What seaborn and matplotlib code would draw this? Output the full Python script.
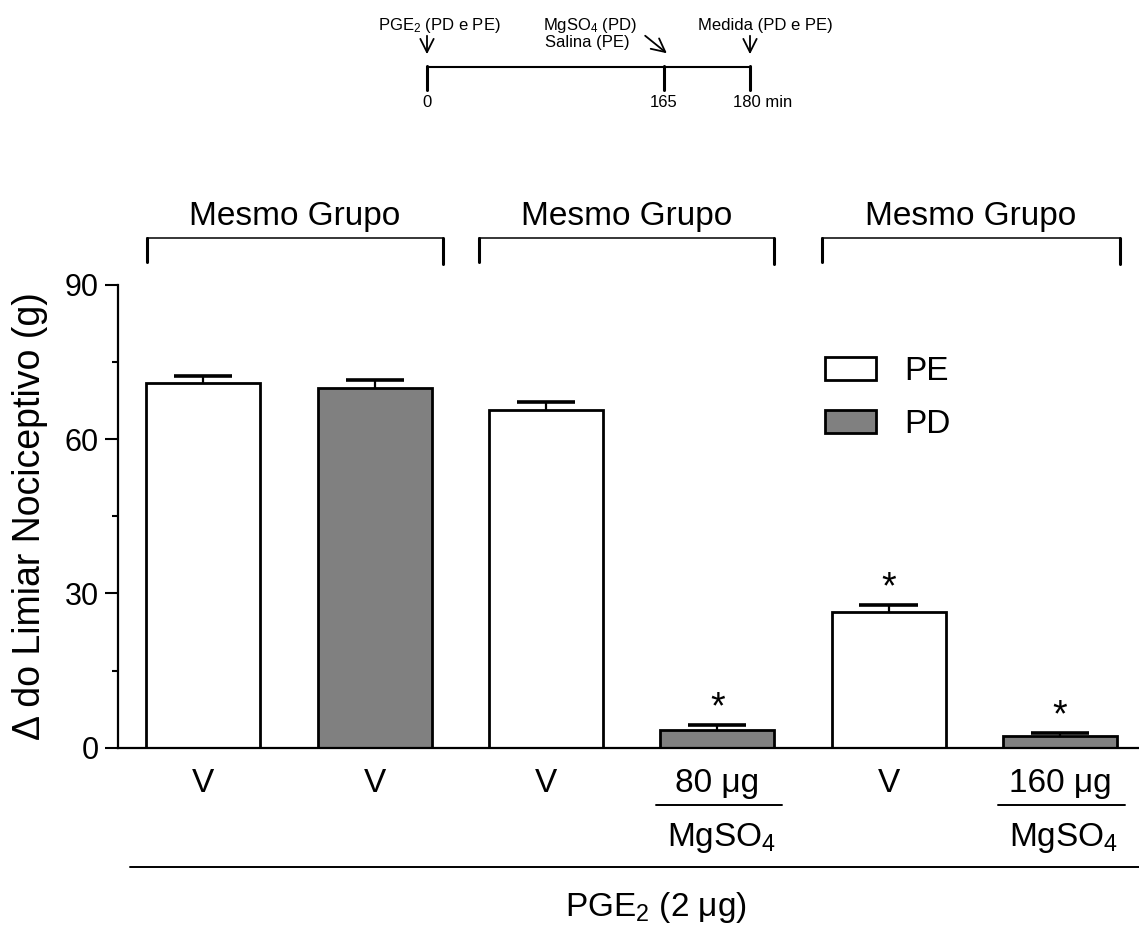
import numpy as np
import pandas as pd
import matplotlib
matplotlib.use("Agg")
import matplotlib.pyplot as plt
from matplotlib.transforms import ScaledTranslation
import seaborn as sns

# bar values (mean and SEM)
bar_ids = [0, 1, 2, 3, 4, 5]
groups = ["PE", "PD", "PE", "PD", "PE", "PD"]
means = [71.0, 69.9, 65.7, 3.4, 26.4, 2.2]
sems = [1.2, 1.6, 1.5, 1.0, 1.3, 0.6]
tick_labels = ["V", "V", "V", "80 \u03bcg", "V", "160 \u03bcg"]
significant = [False, False, False, True, True, True]
mg_bars = [3, 5]

sns.set_style("white")
plt.rcParams["font.family"] = ["Liberation Sans", "DejaVu Sans"]
plt.rcParams["mathtext.fontset"] = "custom"
plt.rcParams["mathtext.rm"] = "Liberation Sans"
plt.rcParams["mathtext.it"] = "Liberation Sans"
for k in ["text.color", "axes.labelcolor", "xtick.color", "ytick.color", "axes.edgecolor"]:
    plt.rcParams[k] = "black"

W, H = 1139, 927
fig = plt.figure(figsize=(W / 100, H / 100), dpi=100)
ax = fig.add_axes([117.7 / W, 1 - 747.6 / H, (W - 117.7) / W, 462.6 / H])

df = pd.DataFrame({"bar": bar_ids, "group": groups, "mean": means, "sem": sems})
sns.barplot(data=df, x="bar", y="mean", hue="group", hue_order=["PE", "PD"],
            palette={"PE": "white", "PD": "#808080"}, dodge=False, width=0.666,
            edgecolor="black", linewidth=2, errorbar=None, ax=ax, zorder=2)

# upper SEM bars
tops = df["mean"] + df["sem"]
ax.vlines(df["bar"], df["mean"], tops, color="black", lw=1.6, zorder=3)
ax.hlines(tops, df["bar"] - 0.17, df["bar"] + 0.17, color="black", lw=2.6, zorder=3)

# asterisks
for i, s in enumerate(significant):
    if s:
        ax.annotate("*", (bar_ids[i], tops[i]), xytext=(0, -1), textcoords="offset points",
                    ha="center", va="bottom", fontsize=27, annotation_clip=False)

ax.set_xlim(-0.5, -0.5 + (W - 117.7) / 171.3)
ax.set_ylim(0, 90)
ax.set_yticks([0, 30, 60, 90])
ax.set_yticks([15, 45, 75], minor=True)
ax.tick_params(axis="y", which="major", length=9.5, width=1.5, labelsize=22, pad=4, left=True)
ax.tick_params(axis="y", which="minor", length=4.5, width=1.5, left=True)
ax.set_xticks(bar_ids)
ax.set_xticklabels(tick_labels)
ax.tick_params(axis="x", length=0, labelsize=24, pad=15)
ax.set_xlabel("")
sns.despine(ax=ax)
ax.spines["left"].set_linewidth(1.6)
ax.spines["bottom"].set_linewidth(1.6)
ax.spines["left"].set_bounds(0, 90)
ax.set_ylabel("\u0394 do Limiar Nociceptivo (g)", fontsize=27)
ax.yaxis.set_label_coords(-0.068, 0.5)

# legend
handles, labels = ax.get_legend_handles_labels()
ax.legend(handles, labels, loc="upper left", bbox_to_anchor=(825 / W, 1 - 356 / H),
          bbox_transform=fig.transFigure, frameon=False, fontsize=24,
          handlelength=1.52, handleheight=0.67, handletextpad=0.85,
          labelspacing=0.66, borderpad=0, borderaxespad=0)

# MgSO4 underline labels
xt = ax.get_xaxis_transform()
for i in mg_bars:
    under = xt + ScaledTranslation(0, -41 / 72, fig.dpi_scale_trans)
    ax.add_line(plt.Line2D([i - 0.36, i + 0.38], [0, 0], color="black", lw=1.4,
                           transform=under, clip_on=False))
    ax.annotate("MgSO$_4$", (i, 0), xycoords=xt, xytext=(3, -65), textcoords="offset points",
                ha="center", va="center", fontsize=24, annotation_clip=False)

# long PGE2 line
off = ScaledTranslation(0, -86 / 72, fig.dpi_scale_trans)
ax.add_line(plt.Line2D([-0.43, 6.0], [0, 0], color="black", lw=1.4,
                       transform=xt + off, clip_on=False))
ax.annotate("PGE$_2$ (2 \u03bcg)", (2.64, 0), xycoords=xt, xytext=(0, -115), textcoords="offset points",
            ha="center", va="center", fontsize=24, annotation_clip=False)

# "Mesmo Grupo" brackets
bracket_spans = [(-0.33, 1.40), (1.61, 3.33), (3.61, 5.35)]
for (a, b) in bracket_spans:
    ax.plot([a, b], [99.1, 99.1], color="black", lw=1.1, clip_on=False)
    ax.plot([a, a], [99.1, 94.4], color="black", lw=2.2, clip_on=False)
    ax.plot([b, b], [99.1, 94.0], color="black", lw=2.2, clip_on=False)
    ax.text((a + b) / 2, 101.7, "Mesmo Grupo", ha="center", va="baseline", fontsize=24)

# timeline inset (pixel coordinates)
tl = fig.add_axes([0, 0, 1, 1])
tl.set_xlim(0, W)
tl.set_ylim(H, 0)
tl.axis("off")
tl.plot([427, 750], [66.7, 66.7], color="black", lw=1.5)
for x in [427, 664, 750]:
    tl.plot([x, x], [66, 90], color="black", lw=2.2)
arrow = dict(arrowstyle="->", color="black", lw=1.3, mutation_scale=24)
tl.annotate("", xy=(427, 57), xytext=(427, 33), arrowprops=arrow)
tl.annotate("", xy=(750, 57), xytext=(750, 33), arrowprops=arrow)
tl.annotate("", xy=(669, 55), xytext=(643, 34), arrowprops=arrow)
tl.text(378, 30, "PGE$_2$ (PD e PE)", fontsize=12, va="baseline")
tl.text(543, 30, "MgSO$_4$ (PD)", fontsize=12, va="baseline")
tl.text(545, 47, "Salina (PE)", fontsize=12, va="baseline")
tl.text(698, 30, "Medida (PD e PE)", fontsize=12, va="baseline")
tl.text(427, 102, "0", fontsize=12, ha="center", va="center")
tl.text(664, 102, "165", fontsize=12, ha="center", va="center")
tl.text(733, 102, "180 min", fontsize=12, va="center")

fig.savefig("out.png", dpi=100)
